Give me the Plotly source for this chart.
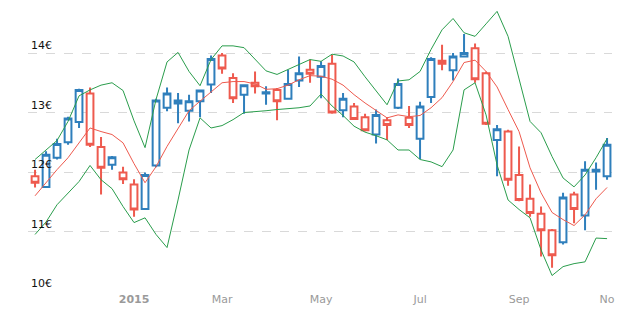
import pandas as pd
import plotly.graph_objects as go

weeks = pd.date_range("2014-11-03", periods=53, freq="7D").strftime("%Y-%m-%d").tolist()

opens = [11.93, 11.75, 12.24, 12.50, 12.84, 13.32, 12.42, 12.12, 11.99, 11.79,
         11.38, 12.11, 13.08, 13.15, 13.03, 13.19, 13.47, 13.96, 13.58, 13.30,
         13.50, 13.32, 13.38, 13.23, 13.54, 13.72, 13.60, 13.82, 13.04, 13.10,
         12.92, 12.63, 12.87, 13.08, 12.91, 12.56, 13.26, 13.87, 13.71, 13.94,
         14.08, 13.66, 12.54, 12.68, 11.95, 11.55, 11.30, 11.02, 10.82, 11.62,
         11.27, 12.01, 11.93]
highs = [12.04, 12.35, 12.56, 12.93, 13.40, 13.42, 12.59, 12.27, 12.09, 11.88,
         11.99, 13.23, 13.42, 13.33, 13.30, 13.38, 13.96, 14.00, 13.66, 13.47,
         13.69, 13.44, 13.41, 13.72, 13.94, 13.89, 13.86, 13.97, 13.33, 13.16,
         12.98, 13.05, 12.92, 13.57, 13.11, 13.18, 13.93, 14.14, 14.00, 14.32,
         14.16, 13.69, 12.79, 12.71, 12.43, 11.79, 11.42, 11.04, 11.65, 11.67,
         12.18, 12.16, 12.57]
lows = [11.74, 11.74, 12.21, 12.46, 12.74, 12.42, 11.62, 12.04, 11.80, 11.25,
        11.37, 12.08, 13.02, 12.82, 12.85, 12.92, 13.33, 13.65, 13.16, 12.98,
        13.32, 13.13, 12.87, 13.22, 13.43, 13.50, 13.24, 12.98, 12.92, 12.88,
        12.68, 12.48, 12.54, 13.06, 12.74, 12.22, 13.16, 13.71, 13.54, 13.93,
        13.50, 12.79, 11.93, 11.77, 11.51, 11.25, 10.58, 10.39, 10.78, 11.14,
        11.02, 11.70, 11.87]
closes = [11.82, 12.29, 12.47, 12.90, 13.38, 12.46, 12.07, 12.25, 11.88, 11.37,
          11.95, 13.20, 13.32, 13.20, 13.19, 13.37, 13.90, 13.74, 13.24, 13.46,
          13.44, 13.34, 13.19, 13.48, 13.66, 13.65, 13.78, 13.00, 13.23, 12.89,
          12.70, 12.96, 12.79, 13.48, 12.79, 13.10, 13.90, 13.82, 13.94, 14.00,
          13.56, 12.81, 12.72, 11.87, 11.53, 11.31, 11.02, 10.60, 11.57, 11.38,
          12.04, 12.04, 12.46]

band_upper = [12.21, 12.37, 12.53, 12.85, 13.28, 13.38, 13.46, 13.50, 13.37, 12.86,
              12.41, 13.22, 13.85, 14.01, 13.69, 13.45, 13.89, 14.12, 14.12, 14.09,
              13.89, 13.70, 13.64, 13.72, 13.80, 13.89, 13.86, 13.98, 13.95, 13.85,
              13.60, 13.37, 13.13, 13.53, 13.55, 13.69, 14.06, 14.39, 14.58, 14.34,
              14.28, 14.49, 14.70, 14.28, 13.55, 12.85, 12.66, 12.26, 11.90, 11.75,
              11.95, 12.24, 12.56]
band_middle = [11.60, 11.82, 12.04, 12.24, 12.49, 12.74, 12.68, 12.63, 12.49, 12.14,
               11.82, 12.09, 12.43, 12.74, 13.03, 13.19, 13.34, 13.50, 13.52, 13.52,
               13.48, 13.39, 13.40, 13.46, 13.55, 13.62, 13.61, 13.56, 13.46, 13.30,
               13.16, 13.03, 12.91, 12.96, 12.93, 12.95, 13.08, 13.25, 13.52, 13.84,
               13.88, 13.69, 13.43, 13.05, 12.68, 12.07, 11.65, 11.32, 11.20, 11.10,
               11.28, 11.55, 11.74]
band_lower = [10.95, 11.16, 11.45, 11.65, 11.84, 12.11, 11.87, 11.72, 11.42, 11.15,
              11.23, 10.95, 10.73, 11.53, 12.37, 12.91, 12.74, 12.78, 12.88, 13.00,
              13.01, 13.03, 13.05, 13.06, 13.08, 13.11, 13.31, 13.11, 12.95, 12.77,
              12.67, 12.61, 12.54, 12.37, 12.37, 12.21, 12.17, 12.09, 12.37, 13.38,
              13.50, 12.96, 12.12, 11.53, 11.37, 11.23, 10.69, 10.26, 10.41, 10.46,
              10.49, 10.89, 10.88]

tick_weeks = ["2015-01-05", "2015-03-02", "2015-05-04", "2015-07-06", "2015-09-07", "2015-11-02"]
tick_text = ["<b>2015</b>", "Mar", "May", "Jul", "Sep", "No"]
price_ticks = [10, 11, 12, 13, 14]
price_labels = ["10€", "11€", "12€", "13€", "14€"]

BLUE = "#2f7fbc"
RED = "#ee5a4e"
GREEN = "#2a9d4c"

fig = go.Figure()
fig.add_trace(go.Scatter(x=weeks, y=band_upper, mode="lines",
                         line=dict(color=GREEN, width=1), hoverinfo="skip"))
fig.add_trace(go.Scatter(x=weeks, y=band_lower, mode="lines",
                         line=dict(color=GREEN, width=1), hoverinfo="skip"))
fig.add_trace(go.Scatter(x=weeks, y=band_middle, mode="lines",
                         line=dict(color=RED, width=1), hoverinfo="skip"))
fig.add_trace(go.Candlestick(
    x=weeks, open=opens, high=highs, low=lows, close=closes,
    increasing=dict(line=dict(color=BLUE, width=2), fillcolor="white"),
    decreasing=dict(line=dict(color=RED, width=2), fillcolor="white"),
    whiskerwidth=0,
))

fig.update_layout(
    width=640, height=320,
    margin=dict(l=28, r=28, t=5, b=29),
    paper_bgcolor="white", plot_bgcolor="white",
    showlegend=False,
    boxgap=0.12,
    font=dict(family="DejaVu Sans", size=11, color="#000"),
    xaxis=dict(
        type="category",
        range=[-0.64, 52.45],
        rangeslider=dict(visible=False),
        tickmode="array", tickvals=tick_weeks, ticktext=tick_text,
        showgrid=False, zeroline=False, showline=False, ticks="",
        tickfont=dict(family="DejaVu Sans", size=11, color="#9a9a9a"),
    ),
    yaxis=dict(
        range=[10, 14.807],
        tickmode="array", tickvals=price_ticks, ticktext=price_labels,
        ticklabelposition="inside top",
        showgrid=True, gridcolor="#d9d9d9", griddash="dash", gridwidth=1,
        zeroline=False, showline=False, ticks="",
        tickfont=dict(family="DejaVu Sans", size=11, color="#111"),
    ),
)

fig.write_html("out.html")
